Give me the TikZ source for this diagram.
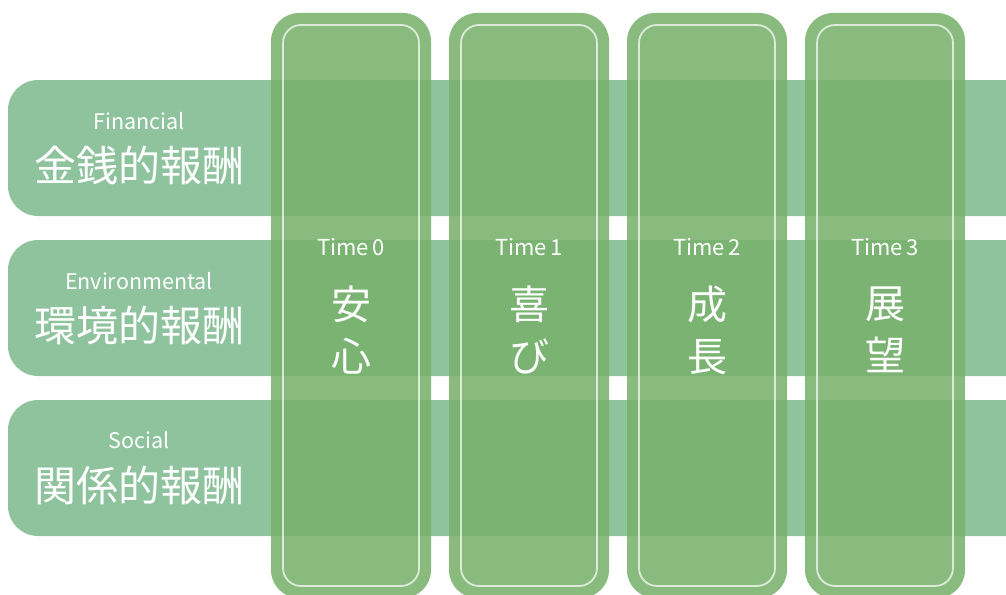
\documentclass[tikz,border=0pt]{standalone}
\usepackage{fontspec}
\setmainfont{Noto Sans CJK JP}
\newfontfamily\jpfont{Noto Sans CJK JP}
\definecolor{bandc}{RGB}{143,195,158}
\definecolor{colc}{RGB}{120,177,108}
\begin{document}
\begin{tikzpicture}[x=1pt,y=-1pt,
  band/.style={fill=bandc,draw=none,rounded corners=30pt},
  colbox/.style={fill=colc,fill opacity=0.87,draw=none,rounded corners=28pt},
  inner/.style={draw=white,draw opacity=0.7,line width=1.8pt,rounded corners=18pt},
  small/.style={text=white,font=\jpfont\fontsize{21.5}{22}\selectfont,inner sep=0pt},
  big/.style={text=white,font=\jpfont\fontsize{42}{44}\selectfont,inner sep=0pt},
  colsmall/.style={text=white,font=\jpfont\fontsize{22}{24}\selectfont,inner sep=0pt},
  colbig/.style={text=white,font=\jpfont\fontsize{40}{52}\selectfont,inner sep=0pt,align=center}]
\useasboundingbox (0,0) rectangle (1006,594);
\begin{scope}
\clip (0,0) rectangle (1006,594);
\path[band] (8,80) rectangle (1040,216);
\path[band] (8,240) rectangle (1040,376);
\path[band] (8,400) rectangle (1040,536);
\foreach \i in {0,1,2,3}{
  \path[colbox] ({271+178*\i},13) rectangle ({431+178*\i},598);
  \draw[inner] ({283+178*\i},25) rectangle ({419+178*\i},586);
}
\end{scope}
\node[small] (f1) at (139,121) {Financial};
\node[big] (f2) at (139,166) {金銭的報酬};
\node[small] (e1) at (139,281) {Environmental};
\node[big] (e2) at (139,326) {環境的報酬};
\node[small] (s1) at (139,440) {Social};
\node[big] (s2) at (139,486) {関係的報酬};
\node[colsmall] (t0) at (351,247) {Time\,0};
\node[colsmall] (t1) at (529,247) {Time\,1};
\node[colsmall] (t2) at (707,247) {Time\,2};
\node[colsmall] (t3) at (885,247) {Time\,3};
\node[colbig] (w0) at (351,330) {安\\心};
\node[colbig] (w1) at (529,330) {喜\\び};
\node[colbig] (w2) at (707,330) {成\\長};
\node[colbig] (w3) at (885,330) {展\\望};
\end{tikzpicture}
\end{document}
